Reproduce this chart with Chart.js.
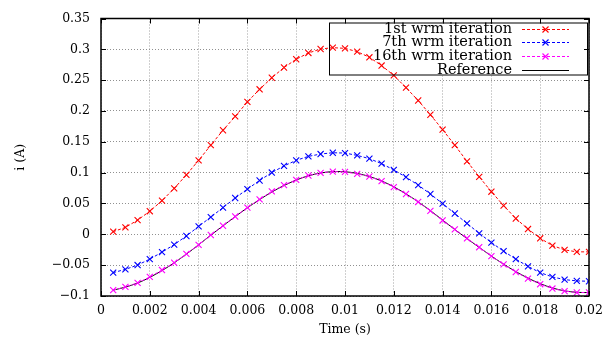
<!DOCTYPE html>
<html><head><meta charset="utf-8">
<script src="https://cdn.jsdelivr.net/npm/chart.js@4/dist/chart.umd.min.js"></script>
<style>html,body{margin:0;padding:0;background:#fff}#wrap{width:613px;height:337px}</style>
</head><body><div id="wrap"><canvas id="c" width="613" height="337"></canvas></div>
<script>
const timeS = [0.0005,0.001,0.0015,0.002,0.0025,0.003,0.0035,0.004,0.0045,0.005,
  0.0055,0.006,0.0065,0.007,0.0075,0.008,0.0085,0.009,0.0095,0.01,
  0.0105,0.011,0.0115,0.012,0.0125,0.013,0.0135,0.014,0.0145,0.015,
  0.0155,0.016,0.0165,0.017,0.0175,0.018,0.0185,0.019,0.0195,0.02];
const iter1 = [0.0043,0.0113,0.0230,0.0375,0.0546,0.0745,0.0964,0.1200,0.1446,0.1688,
  0.1912,0.2148,0.2352,0.2539,0.2705,0.2839,0.2941,0.3005,0.3027,0.3016,
  0.2962,0.2871,0.2737,0.2577,0.2379,0.2170,0.1939,0.1698,0.1446,0.1184,
  0.0932,0.0691,0.0466,0.0257,0.0086,-0.0064,-0.0182,-0.0252,-0.0284,-0.0284];
const iter7 = [-0.0621,-0.0568,-0.0498,-0.0402,-0.0289,-0.0166,-0.0027,0.0129,0.0279,0.0434,
  0.0589,0.0734,0.0873,0.1002,0.1109,0.1200,0.1264,0.1302,0.1323,0.1318,
  0.1280,0.1227,0.1146,0.1045,0.0927,0.0798,0.0654,0.0498,0.0338,0.0177,
  0.0016,-0.0134,-0.0273,-0.0402,-0.0520,-0.0621,-0.0691,-0.0734,-0.0755,-0.0761];
const iter16 = [-0.0905,-0.0852,-0.0788,-0.0691,-0.0579,-0.0461,-0.0316,-0.0171,-0.0011,0.0139,
  0.0289,0.0434,0.0568,0.0696,0.0798,0.0884,0.0954,0.0996,0.1018,0.1012,
  0.0980,0.0938,0.0862,0.0766,0.0654,0.0525,0.0380,0.0225,0.0080,-0.0064,
  -0.0209,-0.0354,-0.0488,-0.0611,-0.0718,-0.0809,-0.0879,-0.0921,-0.0943,-0.0943];
const referenceI = [-0.0905,-0.0856,-0.0790,-0.0698,-0.0588,-0.0462,-0.0320,-0.0170,-0.0014,0.0138,
  0.0288,0.0431,0.0564,0.0686,0.0792,0.0880,0.0950,0.0995,0.1017,0.1015,
  0.0988,0.0938,0.0866,0.0770,0.0656,0.0527,0.0384,0.0232,0.0078,-0.0068,
  -0.0212,-0.0352,-0.0484,-0.0604,-0.0710,-0.0800,-0.0870,-0.0917,-0.0940,-0.0945];
const xTicks = [0,0.002,0.004,0.006,0.008,0.01,0.012,0.014,0.016,0.018,0.02];
const yTicks = [-0.1,-0.05,0,0.05,0.1,0.15,0.2,0.25,0.3,0.35];
const seriesLabels = ['1st wrm iteration','7th wrm iteration','16th wrm iteration','Reference'];
const xTitle = 'Time (s)';
const yTitle = 'i (A)';

const FONT = 'DejaVu Serif';
const pts = arr => timeS.map((t,i)=>({x:t,y:arr[i]}));
const fmt = v => String(parseFloat(v.toFixed(4))).replace('-', '\u2212');

function mkSeries(label, arr, color, marker) {
  return {
    label, data: pts(arr), borderColor: color, backgroundColor: color,
    borderWidth: 1, borderDash: marker ? [3,2] : [],
    pointStyle: 'crossRot', pointRadius: marker ? 4.3 : 0, pointBorderWidth: 1.1,
    pointBorderColor: color, tension: marker ? 0 : 0.3, fill: false,
    _marker: marker
  };
}

function legendBox(ca) {
  return { l: ca.right - 260, t: ca.top + 4, r: ca.right - 1, b: ca.top + 57 };
}

const decor = {
  id: 'decor',
  beforeDatasetsDraw(chart) {
    const ctx = chart.ctx, b = legendBox(chart.chartArea);
    ctx.save();
    ctx.fillStyle = '#fff';
    ctx.fillRect(b.l, b.t, b.r - b.l, b.b - b.t);
    ctx.restore();
  },
  afterDatasetsDraw(chart) {
    const ctx = chart.ctx, ca = chart.chartArea;
    const xs = chart.scales.x, ys = chart.scales.y;
    ctx.save();
    ctx.strokeStyle = '#000';
    ctx.lineWidth = 1;
    ctx.setLineDash([]);
    ctx.beginPath();
    const L = 5;
    xTicks.forEach(v => {
      const px = Math.round(xs.getPixelForValue(v)) + 0.5;
      ctx.moveTo(px, ca.bottom); ctx.lineTo(px, ca.bottom - L);
      ctx.moveTo(px, ca.top); ctx.lineTo(px, ca.top + L);
    });
    yTicks.forEach(v => {
      const py = Math.round(ys.getPixelForValue(v)) + 0.5;
      ctx.moveTo(ca.left, py); ctx.lineTo(ca.left + L, py);
      ctx.moveTo(ca.right, py); ctx.lineTo(ca.right - L, py);
    });
    ctx.stroke();
    ctx.lineWidth = 1.5;
    ctx.strokeRect(ca.left, ca.top, ca.right - ca.left, ca.bottom - ca.top);

    // legend
    const b = legendBox(ca);
    ctx.lineWidth = 1;
    ctx.strokeStyle = '#000';
    ctx.strokeRect(b.l + 0.5, b.t + 0.5, b.r - b.l - 1, b.b - b.t - 1);
    ctx.font = '14.5px "' + FONT + '"';
    ctx.textAlign = 'right';
    ctx.textBaseline = 'middle';
    chart.data.datasets.forEach((ds, i) => {
      const y = b.t + 6 + i * 13.7;
      ctx.fillStyle = '#000';
      ctx.fillText(ds.label, ca.right - 77, y + 0.5);
      ctx.strokeStyle = ds.borderColor;
      ctx.lineWidth = 1;
      ctx.setLineDash(ds._marker ? [3,2] : []);
      ctx.beginPath();
      ctx.moveTo(ca.right - 67, Math.round(y) + 0.5);
      ctx.lineTo(ca.right - 20, Math.round(y) + 0.5);
      ctx.stroke();
      ctx.setLineDash([]);
      if (ds._marker) {
        const cx = ca.right - 43.5, cy = Math.round(y) + 0.5, r = 3;
        ctx.lineWidth = 1.1;
        ctx.beginPath();
        ctx.moveTo(cx - r, cy - r); ctx.lineTo(cx + r, cy + r);
        ctx.moveTo(cx - r, cy + r); ctx.lineTo(cx + r, cy - r);
        ctx.stroke();
      }
    });
    ctx.restore();
  }
};

new Chart(document.getElementById('c'), {
  type: 'line',
  data: {
    datasets: [
      mkSeries(seriesLabels[0], iter1, '#ff0000', true),
      mkSeries(seriesLabels[1], iter7, '#0000ff', true),
      mkSeries(seriesLabels[2], iter16, '#ff00ff', true),
      mkSeries(seriesLabels[3], referenceI, '#000000', false)
    ]
  },
  options: {
    responsive: false, animation: false, devicePixelRatio: 1,
    layout: { padding: { left: 0, top: 17, right: 24, bottom: 0 } },
    plugins: { legend: { display: false }, tooltip: { enabled: false } },
    scales: {
      x: {
        type: 'linear', min: 0, max: 0.02,
        afterBuildTicks: s => { s.ticks = xTicks.map(v => ({ value: v })); },
        afterFit: s => { s.height = 41; },
        ticks: { callback: v => fmt(v), font: { family: FONT, size: 12.5 }, color: '#000', padding: 7, maxRotation: 0, autoSkip: false },
        grid: { color: '#a0a0a0', lineWidth: 1, drawTicks: false },
        border: { display: false, dash: [1, 2] },
        title: { display: true, text: xTitle, font: { family: FONT, size: 12.5 }, color: '#000', padding: { top: 0, bottom: 0 } }
      },
      y: {
        type: 'linear', min: -0.1, max: 0.35,
        afterBuildTicks: s => { s.ticks = yTicks.map(v => ({ value: v })); },
        afterFit: s => { s.width = 101; },
        ticks: { callback: v => fmt(v), font: { family: FONT, size: 12.5 }, color: '#000', padding: 11, autoSkip: false },
        grid: { color: '#909090', lineWidth: 1, drawTicks: false },
        border: { display: false, dash: [1, 2] },
        title: { display: true, text: yTitle, font: { family: FONT, size: 12.5 }, color: '#000', padding: { top: 13, bottom: 0 } }
      }
    }
  },
  plugins: [decor]
});
</script>
</body></html>
